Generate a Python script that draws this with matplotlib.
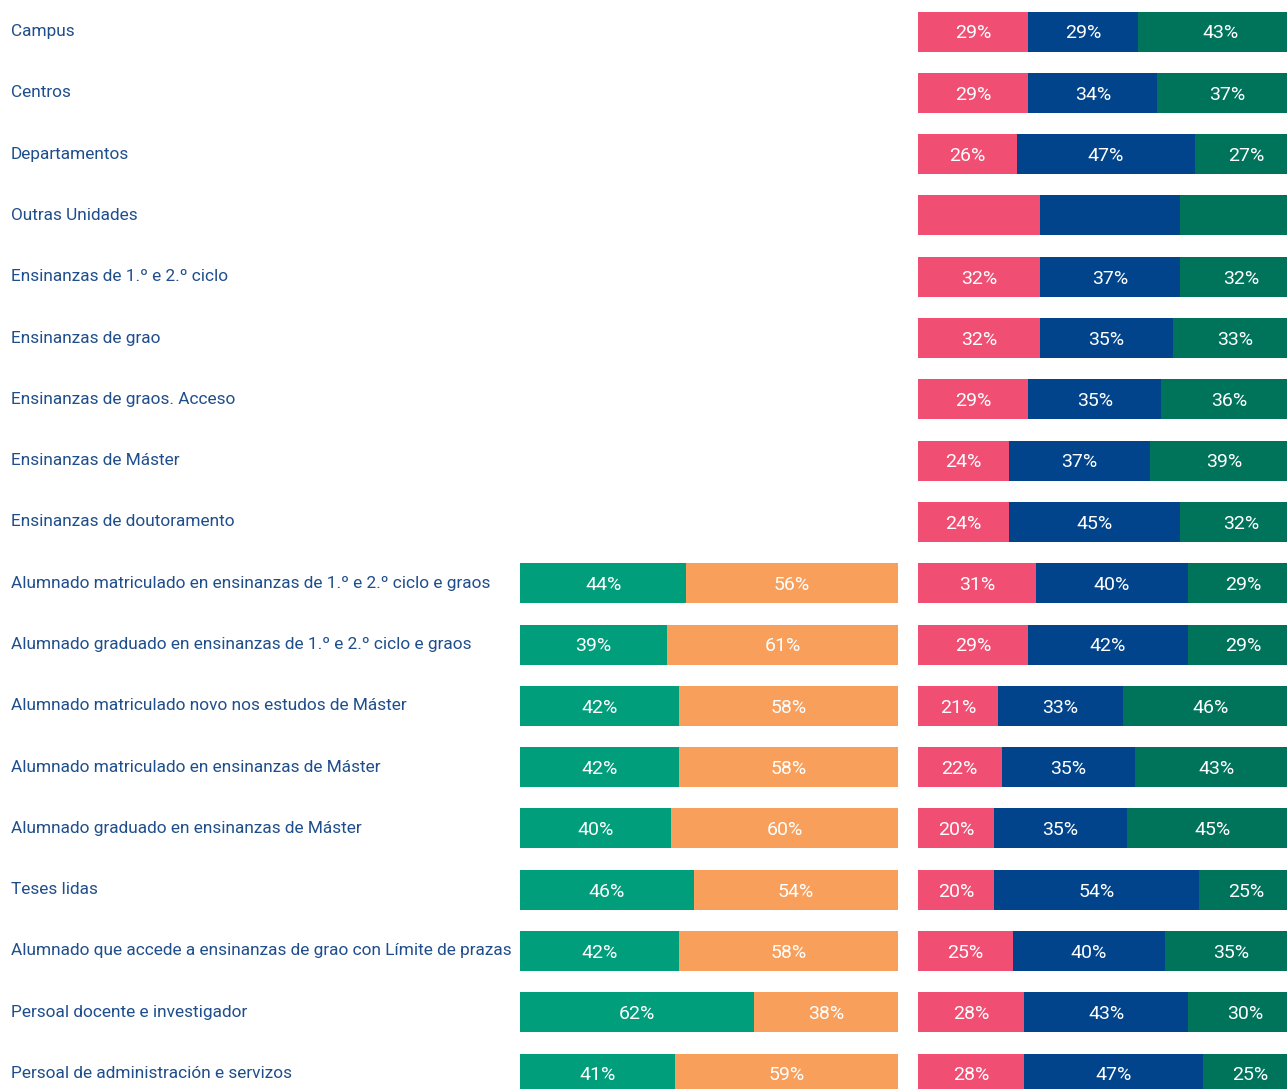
import matplotlib.pyplot as plt
import numpy as np

plt.rcParams['font.family'] = ['Roboto', 'DejaVu Sans']

categories = [
    "Campus",
    "Centros",
    "Departamentos",
    "Outras Unidades",
    "Ensinanzas de 1.º e 2.º ciclo",
    "Ensinanzas de grao",
    "Ensinanzas de graos. Acceso",
    "Ensinanzas de Máster",
    "Ensinanzas de doutoramento",
    "Alumnado matriculado en ensinanzas de 1.º e 2.º ciclo e graos",
    "Alumnado graduado en ensinanzas de 1.º e 2.º ciclo e graos",
    "Alumnado matriculado novo nos estudos de Máster",
    "Alumnado matriculado en ensinanzas de Máster",
    "Alumnado graduado en ensinanzas de Máster",
    "Teses lidas",
    "Alumnado que accede a ensinanzas de grao con Límite de prazas",
    "Persoal docente e investigador",
    "Persoal de administración e servizos",
]

# left panel (two parts), only the last 9 rows have data
left_a = [None] * 9 + [44, 39, 42, 42, 40, 46, 42, 62, 41]
left_b = [None] * 9 + [56, 61, 58, 58, 60, 54, 58, 38, 59]

# right panel (three parts)
right_a = [29, 29, 26, 32, 32, 32, 29, 24, 24, 31, 29, 21, 22, 20, 20, 25, 28, 28]
right_b = [29, 34, 47, 37, 37, 35, 35, 37, 45, 40, 42, 33, 35, 35, 54, 40, 43, 47]
right_c = [43, 37, 27, 32, 32, 33, 36, 39, 32, 29, 29, 46, 43, 45, 25, 35, 30, 25]
show_labels = [True, True, True, False] + [True] * 14

col_teal = '#009E7B'
col_orange = '#F89F5B'
col_pink = '#F04E72'
col_blue = '#01448C'
col_green = '#00735B'
text_col = '#1F4E8C'

W, H = 1287, 1089
fig = plt.figure(figsize=(W / 100, H / 100), dpi=100)

n = len(categories)
row_h = 61.3
top = 31.5
ylim = ((H - top) / row_h, -top / row_h)
bar_h = 40 / row_h

ax_l = fig.add_axes([520 / W, 0, 378 / W, 1])
ax_r = fig.add_axes([918 / W, 0, 380 / W, 1])

y = np.arange(n)


def stacked(ax, parts, colors, labels_on):
    left = np.zeros(n)
    for vals, c in zip(parts, colors):
        for i, v in enumerate(vals):
            if v is None:
                continue
            ax.barh(y[i], v, left=left[i], height=bar_h, color=c, linewidth=0)
            if labels_on[i]:
                ax.text(left[i] + v / 2, y[i] + 0.03, f"{v}%", ha='center', va='center',
                        color='white', fontsize=14)
            left[i] += v


stacked(ax_l, [left_a, left_b], [col_teal, col_orange], [True] * n)
stacked(ax_r, [right_a, right_b, right_c], [col_pink, col_blue, col_green], show_labels)

for ax in (ax_l, ax_r):
    ax.set_xlim(0, 100)
    ax.set_ylim(*ylim)
    ax.axis('off')

for i, name in enumerate(categories):
    fig.text(11 / W, 1 - (top + i * row_h) / H, name, ha='left', va='center',
             color=text_col, fontsize=12.4)

fig.savefig('out.png', dpi=100)
